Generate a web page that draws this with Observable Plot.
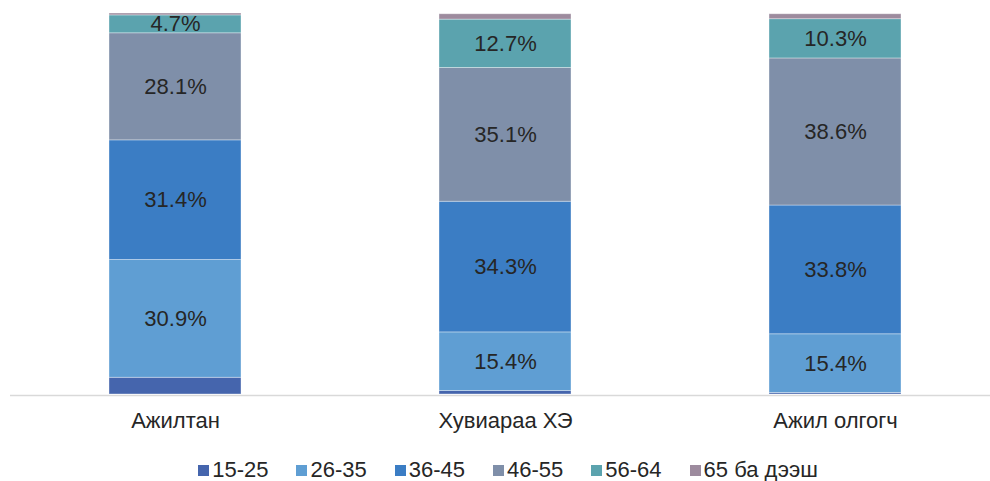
<!DOCTYPE html>
<html>
<head>
<meta charset="utf-8">
<script src="https://cdn.jsdelivr.net/npm/d3@7"></script>
<script src="https://cdn.jsdelivr.net/npm/@observablehq/plot@0.6"></script>
<style>
  html, body { margin: 0; padding: 0; background: #fff; }
  body { width: 990px; font-family: "Liberation Sans", Arial, sans-serif; }
  #legend { display: flex; justify-content: center; align-items: center; gap: 0 28px; height: 50px; font-size: 22px; color: #262626; padding-left: 26px; }
  #legend .item { display: flex; align-items: center; }
  #legend .sw { width: 11px; height: 11px; margin-right: 3px; }
</style>
</head>
<body>
<div id="chart"></div>
<div id="legend"></div>
<script>
const categories = ["Ажилтан", "Хувиараа ХЭ", "Ажил олгогч"];
const ages = ["15-25", "26-35", "36-45", "46-55", "56-64", "65 ба дээш"];
const colors = ["#4565ad", "#5f9ed3", "#3b7dc4", "#7f8fa9", "#5ba3ae", "#9d8b9e"];
// values per age group, in category order
const v15_25 = [4.4, 0.9, 0.4];
const v26_35 = [30.9, 15.4, 15.4];
const v36_45 = [31.4, 34.3, 33.8];
const v46_55 = [28.1, 35.1, 38.6];
const v56_64 = [4.7, 12.7, 10.3];
const v65 = [0.5, 1.4, 1.3];
const series = [v15_25, v26_35, v36_45, v46_55, v56_64, v65];

const data = [];
ages.forEach((a, i) => categories.forEach((c, j) => data.push({cat: c, age: a, value: series[i][j]})));

const chart = Plot.plot({
  width: 990,
  height: 445,
  marginTop: 13,
  marginBottom: 51,
  marginLeft: 10,
  marginRight: 0,
  style: {fontFamily: "Liberation Sans, Arial, sans-serif", background: "#fff"},
  x: {domain: categories, range: [10, 1000], paddingInner: 0.6, paddingOuter: 0.3, label: null},
  y: {domain: [0, 100], axis: null},
  color: {domain: ages, range: colors},
  marks: [
    Plot.ruleY([0], {stroke: "#d9d9d9", strokeWidth: 1.5, dy: 1}),
    Plot.barY(data, Plot.stackY({x: "cat", y: "value", fill: "age", order: ages, stroke: "#ffffff", strokeWidth: 0.8, strokeOpacity: 0.45})),
    Plot.text(data, Plot.stackY({x: "cat", y: "value", z: "age", order: ages,
      text: d => d.value >= 4.5 ? d.value.toFixed(1) + "%" : null,
      fill: "#262626", fontSize: 22})),
    Plot.axisX({tickSize: 0, tickPadding: 18, fontSize: 22, color: "#262626", label: null})
  ]
});
document.getElementById("chart").appendChild(chart);

const leg = document.getElementById("legend");
ages.forEach((a, i) => {
  const it = document.createElement("div");
  it.className = "item";
  const sw = document.createElement("span");
  sw.className = "sw";
  sw.style.background = colors[i];
  const t = document.createElement("span");
  t.textContent = a;
  it.appendChild(sw); it.appendChild(t);
  leg.appendChild(it);
});
</script>
</body>
</html>
